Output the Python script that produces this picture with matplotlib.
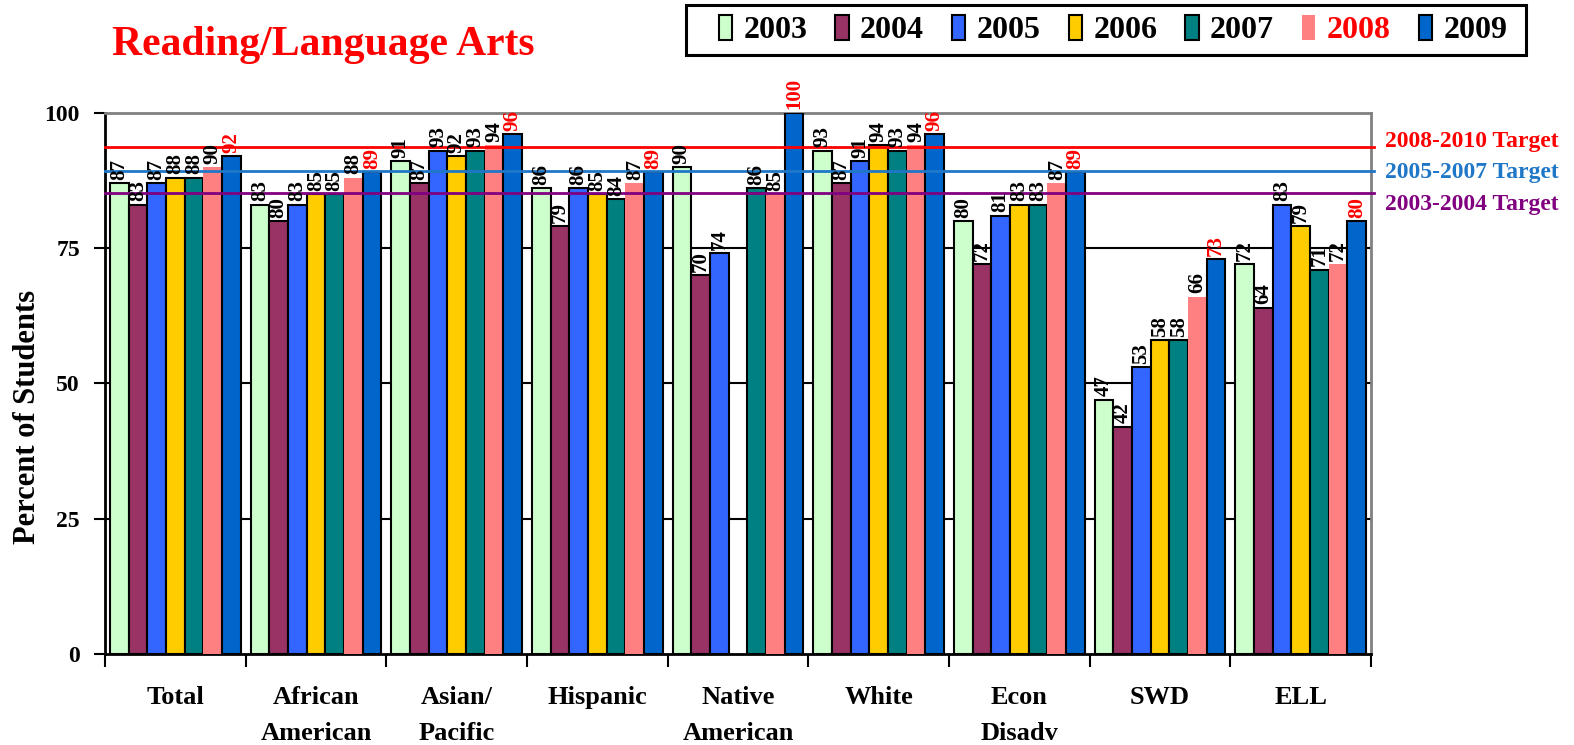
import numpy as np
import matplotlib
matplotlib.use('Agg')
import matplotlib.pyplot as plt
from matplotlib.patches import Patch, Rectangle

plt.rcParams['font.family'] = ['Liberation Serif', 'DejaVu Serif']
plt.rcParams['font.weight'] = 'bold'

groups = ['Total', 'African\nAmerican', 'Asian/\nPacific', 'Hispanic', 'Native\nAmerican',
          'White', 'Econ\nDisadv', 'SWD', 'ELL']
years = ['2003', '2004', '2005', '2006', '2007', '2008', '2009']
colors = ['#CCFFCC', '#993366', '#3366FF', '#FFCC00', '#008080', '#FF8080', '#0066CC']

# one list per year, one value per group (None = no data)
v2003 = [87, 83, 91, 86, 90, 93, 80, 47, 72]
v2004 = [83, 80, 87, 79, 70, 87, 72, 42, 64]
v2005 = [87, 83, 93, 86, 74, 91, 81, 53, 83]
v2006 = [88, 85, 92, 85, None, 94, 83, 58, 79]
v2007 = [88, 85, 93, 84, 86, 93, 83, 58, 71]
v2008 = [90, 88, 94, 87, 85, 94, 87, 66, 72]
v2009 = [92, 89, 96, 89, 100, 96, 89, 73, 80]
values = [v2003, v2004, v2005, v2006, v2007, v2008, v2009]

targets = [93.6, 89.2, 85.1]
target_names = ['2008-2010 Target', '2005-2007 Target', '2003-2004 Target']
target_colors = ['#FF0000', '#1F77C8', '#800080']
target_label_y = [94.6, 89.0, 83.0]

fig = plt.figure(figsize=(15.74, 7.45), dpi=100)
ax = fig.add_axes([105 / 1574, 1 - 654 / 745, (1371 - 105) / 1574, (654 - 112.7) / 745])

x = np.arange(len(groups))
w = 0.133
for j, (yr, vals) in enumerate(zip(years, values)):
    for i, v in enumerate(vals):
        if v is None:
            continue
        xi = x[i] + (j - 3) * w
        ec = 'none' if yr == '2008' else 'black'
        ax.bar(xi, v, width=w, color=colors[j], edgecolor=ec, linewidth=1.5, zorder=3)
        tc = 'red' if yr == '2009' else 'black'
        ax.text(xi, v + 0.6, str(v), rotation=90, ha='center', va='bottom',
                fontsize=15, fontweight='bold', color=tc, clip_on=False, zorder=5)

# gridlines
for g in [25, 50, 75]:
    ax.axhline(g, color='black', linewidth=1.5, zorder=1)

# target lines
for t, name, c, ly in zip(targets, target_names, target_colors, target_label_y):
    ax.plot([-0.5, 8.52], [t, t], color=c, linewidth=2, zorder=4, clip_on=False)
    ax.text(8.6, ly, name, color=c, fontsize=17, fontweight='bold', va='center', ha='left',
            clip_on=False)

ax.set_xlim(-0.5, 8.5)
ax.set_ylim(0, 100)
ax.set_yticks([0, 25, 50, 75, 100])
ax.tick_params(axis='y', labelsize=17, length=8, width=1.5, direction='out', pad=10)

ax.set_xticks(np.arange(-0.5, 9, 1))
ax.set_xticklabels([])
ax.tick_params(axis='x', which='major', length=9, width=1.5, direction='out')
ax.set_xticks(x, minor=True)
ax.set_xticklabels(groups, minor=True, fontsize=19, fontweight='bold', linespacing=1.7)
ax.tick_params(axis='x', which='minor', length=0, pad=23)

for s in ['left', 'bottom']:
    ax.spines[s].set_linewidth(2)
    ax.spines[s].set_color('black')
for s in ['top', 'right']:
    ax.spines[s].set_linewidth(2)
    ax.spines[s].set_color('#808080')

fig.text(28 / 1574, 1 - 417 / 745, 'Percent of Students', fontsize=22, fontweight='bold',
         rotation=90, ha='center', va='center')

fig.text(112 / 1574, 1 - 45 / 745, 'Reading/Language Arts', color='red', fontsize=30,
         fontweight='bold', ha='left', va='center')

# legend box drawn by hand, entries centred inside
fig.patches.append(Rectangle((686 / 1574, 1 - 55 / 745), 840 / 1574, 50 / 745,
                             transform=fig.transFigure, facecolor='white',
                             edgecolor='black', linewidth=2.2, zorder=0))
handles = []
for j, yr in enumerate(years):
    ec = 'none' if yr == '2008' else 'black'
    handles.append(Patch(facecolor=colors[j], edgecolor=ec, linewidth=1.5))
leg = fig.legend(handles, years, ncol=7, loc='center',
                 bbox_to_anchor=(1113 / 1574, 1 - 30 / 745), frameon=False,
                 prop={'weight': 'bold', 'size': 23},
                 handlelength=0.42, handleheight=0.85, handletextpad=0.35,
                 columnspacing=0.88, borderpad=0.2, borderaxespad=0)
for t in leg.get_texts():
    if t.get_text() == '2008':
        t.set_color('red')

fig.savefig('out.png', dpi=100)
